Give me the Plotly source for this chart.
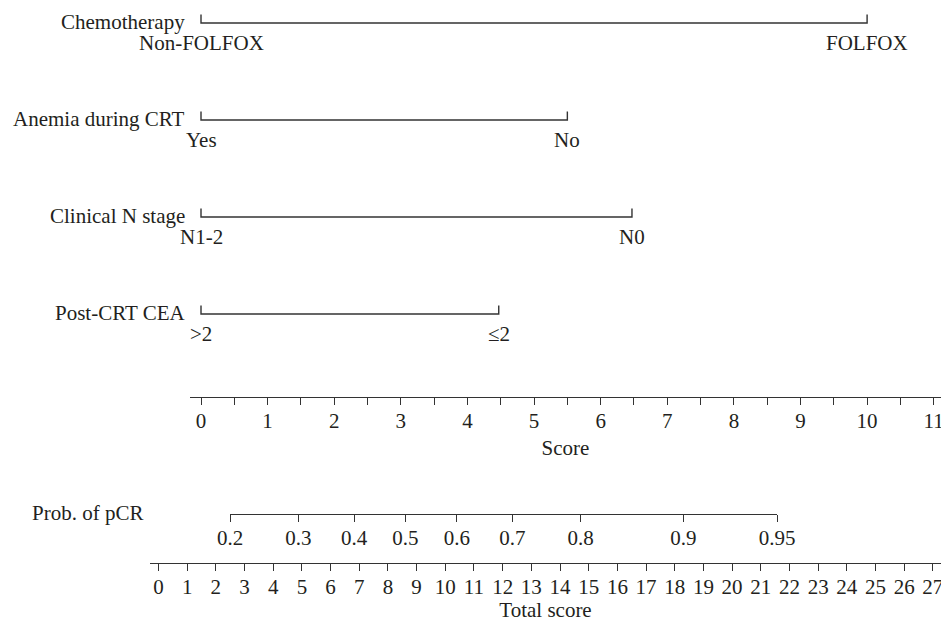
import plotly.graph_objects as go

# ---------------- data ----------------
variables = ["Chemotherapy", "Anemia during CRT", "Clinical N stage", "Post-CRT CEA"]
level_low = ["Non-FOLFOX", "Yes", "N1-2", ">2"]
level_high = ["FOLFOX", "No", "N0", "≤2"]
points_high = [10.0, 5.5, 6.47, 4.47]          # score of the upper level (lower level = 0)

score_ticks = [i * 0.5 for i in range(23)]       # 0 .. 11 every 0.5
score_labels = [str(int(v)) if v == int(v) else "" for v in score_ticks]

total_ticks = list(range(28))                     # 0 .. 27
total_labels = [str(v) for v in total_ticks]

prob_labels = ["0.2", "0.3", "0.4", "0.5", "0.6", "0.7", "0.8", "0.9", "0.95"]
prob_at_total = [2.50, 4.88, 6.82, 8.61, 10.40, 12.34, 14.72, 18.30, 21.57]

# ---------------- style / layout ----------------
W, H = 941, 622
FONT = "Liberation Serif"
FS = 21
TXT = "#231f20"
LINE = "#333333"
LW = 1.4

row_px = [23, 120, 217, 314]     # vertical position of each variable line (px from top)
score_px, prob_px, total_px = 397, 514, 562.5

# horizontal pixel geometry of the axes
score0_px, score_unit = 201.0, 66.61
total0_px, total_unit = 158.5, 28.68
score_line = (190, 941)
total_line = (150, 941)


def ypos(px):
    return 1 - px / H


fig = go.Figure()

# variable lines with end ticks pointing up
for name, lo, hi, p, y in zip(variables, level_low, level_high, points_high, row_px):
    fig.add_trace(go.Scatter(
        x=[0, 0, p, p], y=[y - 8.5, y, y, y - 8.5],
        mode="lines", line=dict(color=LINE, width=LW),
        hoverinfo="skip", showlegend=False, xaxis="x", yaxis="y"))
    fig.add_annotation(x=0, y=y, xref="x", yref="y", text=name, showarrow=False,
                       xanchor="right", yanchor="middle", xshift=-14, yshift=1,
                       font=dict(family=FONT, size=FS, color=TXT))
    fig.add_annotation(x=0, y=y + 20, xref="x", yref="y", text=lo, showarrow=False,
                       xanchor="center", yanchor="middle",
                       font=dict(family=FONT, size=FS, color=TXT))
    fig.add_annotation(x=p, y=y + 20, xref="x", yref="y", text=hi, showarrow=False,
                       xanchor="center", yanchor="middle",
                       font=dict(family=FONT, size=FS, color=TXT))

# invisible traces so the other axes are drawn
fig.add_trace(go.Scatter(x=[total_ticks[0]], y=[-100], mode="markers", opacity=0,
                         hoverinfo="skip", showlegend=False, xaxis="x2", yaxis="y"))
fig.add_trace(go.Scatter(x=[prob_at_total[0]], y=[-100], mode="markers", opacity=0,
                         hoverinfo="skip", showlegend=False, xaxis="x3", yaxis="y"))

fig.add_annotation(x=145 / W, y=prob_px, xref="paper", yref="y",
                   text="Prob. of pCR", showarrow=False, xanchor="right",
                   yanchor="middle", yshift=1,
                   font=dict(family=FONT, size=FS, color=TXT))

axis_common = dict(
    showline=True, linecolor=LINE, linewidth=LW,
    ticks="outside", ticklen=7, tickwidth=LW, tickcolor=LINE,
    showgrid=False, zeroline=False, anchor="free", side="bottom",
    tickfont=dict(family=FONT, size=FS, color=TXT),
    fixedrange=True, ticklabelstandoff=-2, automargin=False,
    ticklabeloverflow="allow",
)

fig.update_layout(
    template="none",
    width=W, height=H, autosize=False,
    margin=dict(l=0, r=0, t=0, b=0, pad=0),
    paper_bgcolor="white", plot_bgcolor="rgba(0,0,0,0)",
    showlegend=False,
    yaxis=dict(range=[H, 0], domain=[0, 1], visible=False, fixedrange=True,
               automargin=False),
    xaxis=dict(
        domain=[score_line[0] / W, score_line[1] / W],
        range=[(score_line[0] - score0_px) / score_unit, (score_line[1] - score0_px) / score_unit],
        position=ypos(score_px),
        tickmode="array", tickvals=score_ticks, ticktext=score_labels,
        title=dict(text="Score", font=dict(family=FONT, size=FS, color=TXT), standoff=7),
        **axis_common),
    xaxis2=dict(
        domain=[total_line[0] / W, total_line[1] / W],
        range=[(total_line[0] - total0_px) / total_unit, (total_line[1] - total0_px) / total_unit],
        position=ypos(total_px),
        tickmode="array", tickvals=total_ticks, ticktext=total_labels,
        title=dict(text="Total score", font=dict(family=FONT, size=FS, color=TXT), standoff=12),
        **axis_common),
    xaxis3=dict(
        domain=[(total0_px + prob_at_total[0] * total_unit) / W,
                (total0_px + prob_at_total[-1] * total_unit) / W],
        range=[prob_at_total[0], prob_at_total[-1]],
        position=ypos(prob_px),
        tickmode="array", tickvals=prob_at_total, ticktext=prob_labels,
        **axis_common),
)

fig.write_html("out.html", config={"displayModeBar": False},
               post_script="document.body.style.margin='0px';")
